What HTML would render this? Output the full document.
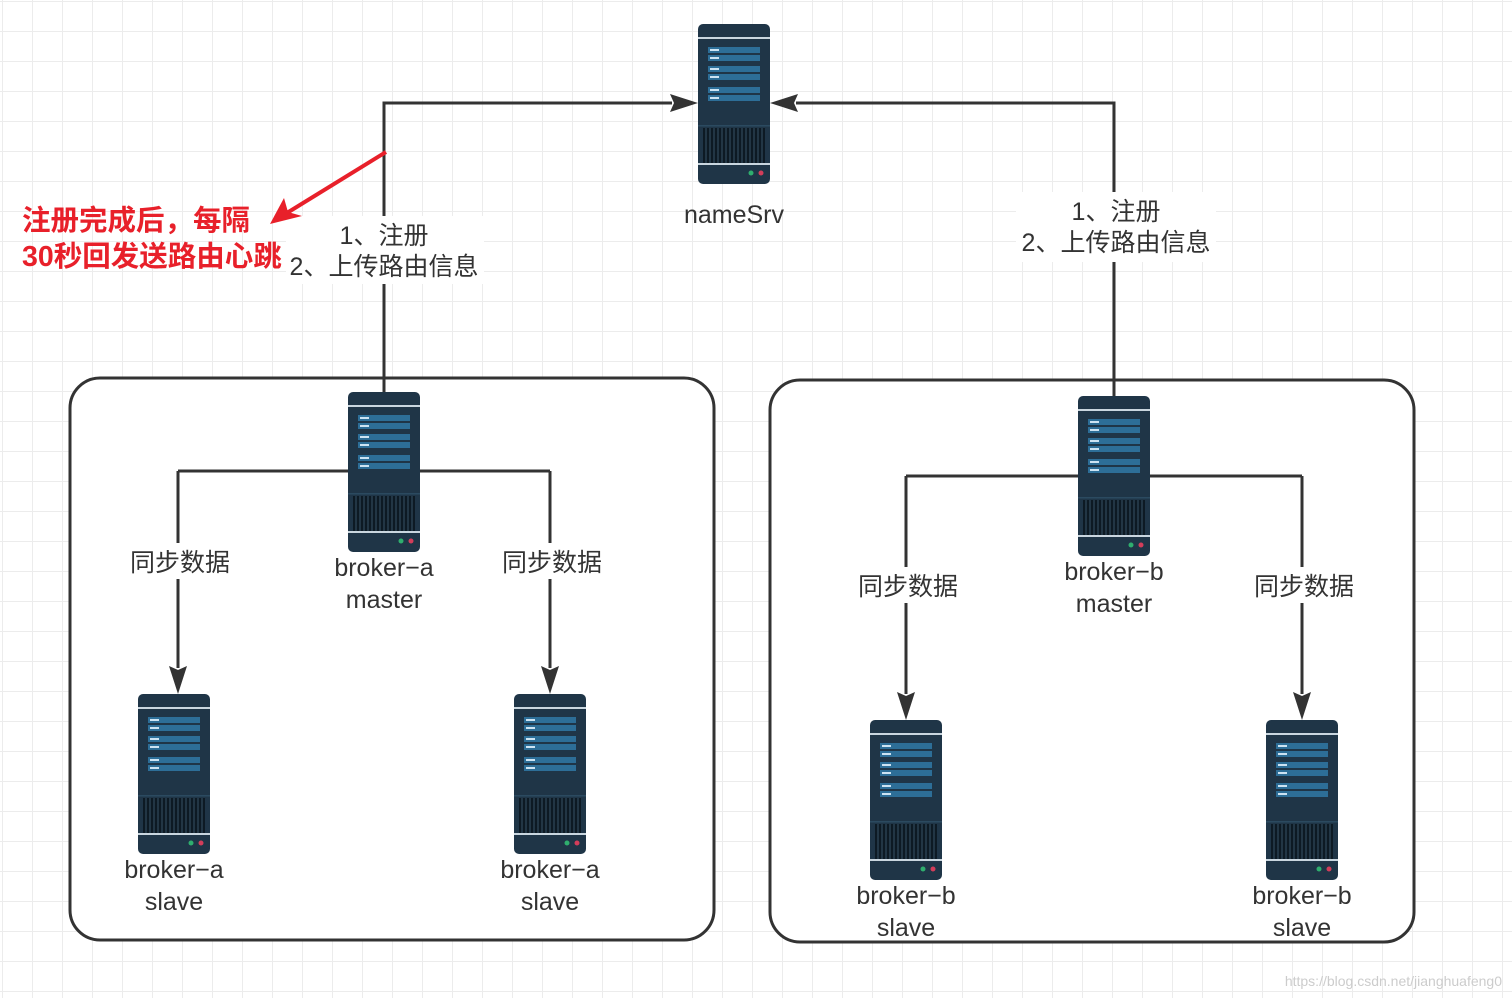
<!DOCTYPE html>
<html><head><meta charset="utf-8"><style>
html,body{margin:0;padding:0;background:#fff}
svg{display:block}
text{font-family:"Liberation Sans","Noto Sans CJK SC",sans-serif;fill:#333;font-size:25px}
</style></head><body>
<svg width="1512" height="998" viewBox="0 0 1512 998" xmlns="http://www.w3.org/2000/svg">
<defs>
<pattern id="g" width="30" height="30" patternUnits="userSpaceOnUse" x="2" y="1">
<path d="M0 0H30M0 0V30" stroke="#ececec" stroke-width="2" fill="none"/>
</pattern>
<g id="srv">
<rect x="0" y="0" width="72" height="160" rx="5" fill="#1f3547"/>
<rect x="0" y="13" width="72" height="2" fill="#c9d6df"/>
<rect x="10" y="23" width="52" height="6" fill="#2d6e97"/><rect x="10" y="31" width="52" height="6" fill="#2d6e97"/>
<rect x="10" y="42" width="52" height="6" fill="#2d6e97"/><rect x="10" y="50" width="52" height="6" fill="#2d6e97"/>
<rect x="10" y="63" width="52" height="6" fill="#2d6e97"/><rect x="10" y="71" width="52" height="6" fill="#2d6e97"/>
<g fill="#cde3f2"><rect x="12" y="25" width="9" height="2"/><rect x="12" y="33" width="9" height="2"/><rect x="12" y="44" width="9" height="2"/><rect x="12" y="52" width="9" height="2"/><rect x="12" y="65" width="9" height="2"/><rect x="12" y="73" width="9" height="2"/></g>
<rect x="0" y="101" width="72" height="1.5" fill="#2b4a60"/>
<rect x="5" y="104" width="62" height="35" fill="#0d1a24"/>
<path d="M8 104V139M12 104V139M16 104V139M20 104V139M24 104V139M28 104V139M32 104V139M36 104V139M40 104V139M44 104V139M48 104V139M52 104V139M56 104V139M60 104V139M64 104V139" stroke="#2a3f50" stroke-width="1.5"/>
<rect x="0" y="139" width="72" height="2" fill="#c9d6df"/>
<circle cx="53" cy="149" r="2.5" fill="#2fae6e"/><circle cx="63" cy="149" r="2.5" fill="#d33d5a"/>
</g>
</defs>
<rect width="1512" height="998" fill="url(#g)"/>
<rect x="70" y="378" width="644" height="562" rx="30" fill="#fff" stroke="#333" stroke-width="3"/>
<rect x="770" y="380" width="644" height="562" rx="30" fill="#fff" stroke="#333" stroke-width="3"/>
<g stroke="#333" stroke-width="3" fill="none">
<path d="M384 392V103H672"/>
<path d="M1114 396V103H796"/>
<path d="M178 471H550M178 471V668M550 471V668"/>
<path d="M906 476H1302M906 476V694M1302 476V694"/>
</g>
<g fill="#333">
<path d="M698 103L670 94L674 103L670 112Z"/>
<path d="M770 103L798 94L794 103L798 112Z"/>
<path d="M178 694L169 666L178 670L187 666Z"/>
<path d="M550 694L541 666L550 670L559 666Z"/>
<path d="M906 720L897 692L906 696L915 692Z"/>
<path d="M1302 720L1293 692L1302 696L1311 692Z"/>
</g>
<use href="#srv" x="698" y="24"/>
<use href="#srv" x="348" y="392"/>
<use href="#srv" x="138" y="694"/>
<use href="#srv" x="514" y="694"/>
<use href="#srv" x="1078" y="396"/>
<use href="#srv" x="870" y="720"/>
<use href="#srv" x="1266" y="720"/>
<rect x="286" y="216" width="198" height="68" fill="#fff"/>
<rect x="1016" y="192" width="200" height="70" fill="#fff"/>
<rect x="126" y="543" width="108" height="36" fill="#fff"/>
<rect x="498" y="543" width="108" height="36" fill="#fff"/>
<rect x="854" y="567" width="108" height="36" fill="#fff"/>
<rect x="1250" y="567" width="108" height="36" fill="#fff"/>
<g text-anchor="middle">
<text x="734" y="223">nameSrv</text>
<text x="384" y="244">1、注册</text>
<text x="384" y="275">2、上传路由信息</text>
<text x="1116" y="220">1、注册</text>
<text x="1116" y="251">2、上传路由信息</text>
<text x="180" y="571">同步数据</text>
<text x="552" y="571">同步数据</text>
<text x="908" y="595">同步数据</text>
<text x="1304" y="595">同步数据</text>
<text x="384" y="576">broker−a</text><text x="384" y="608">master</text>
<text x="174" y="878">broker−a</text><text x="174" y="910">slave</text>
<text x="550" y="878">broker−a</text><text x="550" y="910">slave</text>
<text x="1114" y="580">broker−b</text><text x="1114" y="612">master</text>
<text x="906" y="904">broker−b</text><text x="906" y="936">slave</text>
<text x="1302" y="904">broker−b</text><text x="1302" y="936">slave</text>
</g>
<path d="M386 152L282 216" stroke="#e8202a" stroke-width="4" fill="none"/>
<path d="M270 224L284 198L288 212L302 216Z" fill="#e8202a"/>
<text x="22" y="230" style="fill:#e8202a;font-size:28.5px;font-weight:bold">注册完成后，每隔</text>
<text x="22" y="266" style="fill:#e8202a;font-size:28.5px;font-weight:bold">30秒回发送路由心跳</text>
<text x="1502" y="986" text-anchor="end" style="fill:#ccc;font-size:14px">https://blog.csdn.net/jianghuafeng0</text>
</svg>
</body></html>
